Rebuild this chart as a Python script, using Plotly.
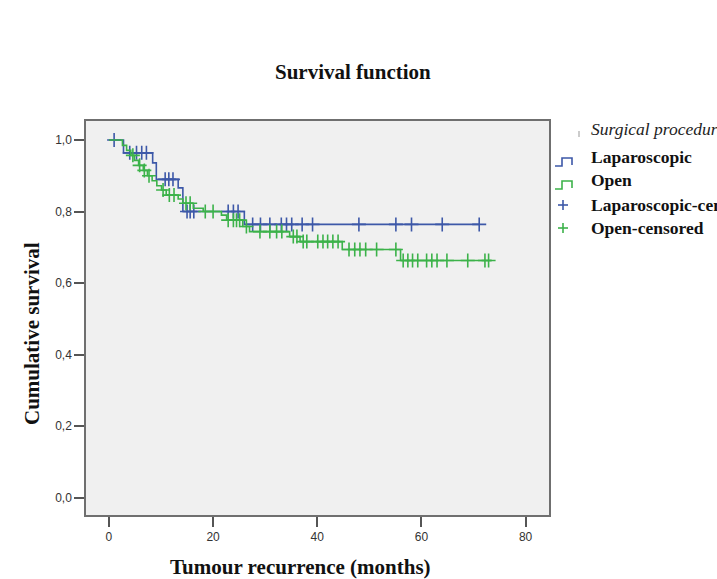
import plotly.graph_objects as go

# ---------------- data ----------------
lap_event_times = [0, 2.8, 8.4, 9.1, 13.3, 14.2, 26.0]
lap_survival = [1.0, 0.964, 0.936, 0.89, 0.866, 0.80, 0.764]
lap_last_time = 71.1
lap_censor_times = [1.0, 4.0, 5.3, 6.3, 7.2, 10.8, 11.5, 12.3, 15.0, 15.6, 16.3,
                    22.9, 23.9, 24.8, 27.6, 29.1, 30.9, 33.1, 34.1, 35.1, 37.1,
                    39.1, 48.0, 55.1, 58.1, 64.0, 71.1]

open_event_times = [0, 2.6, 3.4, 4.2, 4.9, 5.7, 6.6, 7.4, 8.3, 9.2, 10.1, 11.0,
                    13.3, 14.2, 16.2, 18.1, 21.6, 22.6, 25.7, 27.0, 34.7, 36.7,
                    44.8, 56.0]
open_survival = [1.0, 0.985, 0.971, 0.957, 0.943, 0.929, 0.915, 0.90, 0.886,
                 0.872, 0.86, 0.846, 0.835, 0.823, 0.809, 0.80, 0.79, 0.776,
                 0.758, 0.744, 0.73, 0.716, 0.694, 0.663]
open_last_time = 73.4
open_censor_times = [4.6, 5.9, 6.8, 7.7, 10.4, 11.6, 12.5, 14.8, 15.6, 18.5, 20.0,
                     22.9, 23.9, 24.5, 25.1, 26.4, 29.0, 30.9, 32.2, 33.2, 35.4,
                     36.1, 37.3, 38.0, 40.1, 41.1, 42.0, 43.0, 44.0, 46.1, 47.2,
                     48.2, 49.3, 51.4, 55.1, 56.5, 57.4, 58.3, 59.3, 61.0, 62.0,
                     63.0, 64.9, 68.9, 72.2, 72.9]

x_ticks = [0, 20, 40, 60, 80]
y_ticks = [0.0, 0.2, 0.4, 0.6, 0.8, 1.0]
group_names = ["Laparoscopic", "Open"]
legend_title = "Surgical procedure"

BLUE = "#3d58a8"
GREEN = "#3cb24a"


def surv_at(t, times, surv):
    s = surv[0]
    for tt, ss in zip(times, surv):
        if tt <= t:
            s = ss
    return s


fig = go.Figure()
for times, surv, last, cens, col, name in [
    (lap_event_times, lap_survival, lap_last_time, lap_censor_times, BLUE, group_names[0]),
    (open_event_times, open_survival, open_last_time, open_censor_times, GREEN, group_names[1]),
]:
    fig.add_trace(go.Scatter(
        x=list(times) + [last], y=list(surv) + [surv[-1]],
        mode="lines", line=dict(color=col, width=1.6, shape="hv"),
        name=name, showlegend=False, hoverinfo="skip"))
    fig.add_trace(go.Scatter(
        x=cens, y=[surv_at(c, times, surv) for c in cens],
        mode="markers",
        marker=dict(symbol="cross-thin", size=10, line=dict(color=col, width=1.6)),
        name=name + "-censored", showlegend=False, hoverinfo="skip"))

# pixel geometry of the plot area
W, H = 717, 579
L, R, T, B = 86, 549, 121, 515


def px(xp):
    return (xp - L) / (R - L)


def py(yp):
    return (B - yp) / (B - T)


serif = "Liberation Serif, Times New Roman, serif"
sans = "Liberation Sans, Arial, sans-serif"

annotations = [
    dict(text="<b>Survival function</b>", x=px(353), y=py(72), xref="paper", yref="paper",
         showarrow=False, font=dict(family=serif, size=21, color="#111"),
         xanchor="center", yanchor="middle"),
    dict(text="<b>Tumour recurrence (months)</b>", x=px(300), y=py(567), xref="paper",
         yref="paper", showarrow=False, font=dict(family=serif, size=21, color="#111"),
         xanchor="center", yanchor="middle"),
    dict(text="<b>Cumulative survival</b>", x=px(32), y=py(334), xref="paper",
         yref="paper", showarrow=False, textangle=-90,
         font=dict(family=serif, size=21, color="#111"),
         xanchor="center", yanchor="middle"),
    dict(text="<i>" + legend_title + "</i>", x=px(589), y=py(129), xref="paper",
         yref="paper", showarrow=False, font=dict(family=serif, size=17.5, color="#222"),
         xanchor="left", yanchor="middle"),
]
legend_rows = [
    (group_names[0], 157, BLUE, "step"),
    (group_names[1], 180, GREEN, "step"),
    (group_names[0] + "-censored", 205, BLUE, "cross"),
    (group_names[1] + "-censored", 228, GREEN, "cross"),
]
shapes = [dict(type="line", xref="paper", yref="paper", x0=px(579), x1=px(579),
               y0=py(131), y1=py(137), line=dict(color="#999", width=1))]
for label, yc, col, kind in legend_rows:
    annotations.append(dict(text="<b>" + label + "</b>", x=px(589), y=py(yc), xref="paper",
                            yref="paper", showarrow=False,
                            font=dict(family=serif, size=17.5, color="#111"),
                            xanchor="left", yanchor="middle"))
    if kind == "step":
        yb, yt = yc + 9, yc + 1
        path = (f"M {px(555)} {py(yb)} L {px(562)} {py(yb)} L {px(562)} {py(yt)} "
                f"L {px(572)} {py(yt)} L {px(572)} {py(yb - 1)}")
        shapes.append(dict(type="path", path=path, xref="paper", yref="paper",
                           line=dict(color=col, width=1.6)))
    else:
        shapes.append(dict(type="line", xref="paper", yref="paper", x0=px(558), x1=px(568),
                           y0=py(yc), y1=py(yc), line=dict(color=col, width=1.6)))
        shapes.append(dict(type="line", xref="paper", yref="paper", x0=px(563), x1=px(563),
                           y0=py(yc - 5), y1=py(yc + 5), line=dict(color=col, width=1.6)))

axis_common = dict(showline=True, mirror=True, linecolor="#6f6f6f", linewidth=1.5,
                   ticks="outside", ticklen=10, tickwidth=1.5, tickcolor="#555",
                   showgrid=False, zeroline=False,
                   tickfont=dict(family=sans, size=12, color="#333"))

fig.update_layout(
    width=W, height=H,
    margin=dict(l=L, r=W - R, t=T, b=H - B, autoexpand=False),
    paper_bgcolor="white", plot_bgcolor="#f0f0f0",
    separators=",.",
    showlegend=False,
    xaxis=dict(range=[-4.4, 84.5], tickvals=x_ticks, **axis_common),
    yaxis=dict(range=[-0.048, 1.053], tickvals=y_ticks, tickformat=".1f", **axis_common),
    annotations=annotations,
    shapes=shapes,
)

fig.write_html("out.html")
